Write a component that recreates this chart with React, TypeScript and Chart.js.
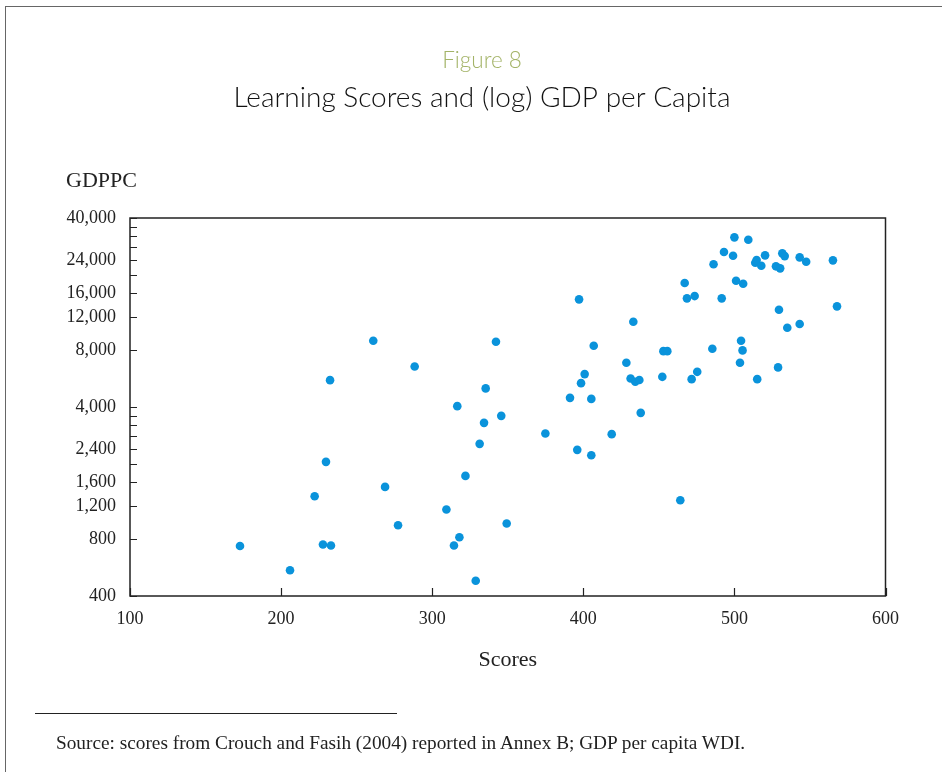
import React, { useEffect, useRef } from 'react';
import { Chart, registerables } from 'chart.js';

Chart.register(...registerables);

// ---- data ----
const scores = [
  172.8, 205.9, 222.2, 229.7, 227.7, 233.0, 232.4, 261.0, 268.8, 277.4,
  288.4, 309.4, 314.4, 318.0, 316.6, 322.0, 328.8, 331.4, 334.3, 342.2,
  345.7, 349.3, 335.4, 374.9, 391.2, 396.0, 397.2, 398.5, 400.9, 405.3,
  405.3, 406.9, 418.8, 428.5, 431.3, 434.4, 437.1, 433.1, 438.0, 452.3,
  453.0, 455.6, 464.2, 467.1, 468.6, 473.7, 471.7, 475.4, 485.4, 486.2,
  491.6, 493.1, 499.1, 500.0, 501.1, 503.7, 504.4, 505.4, 505.8, 509.2,
  513.8, 514.7, 515.1, 517.8, 520.3, 527.5, 528.9, 529.5, 530.3, 531.7,
  533.3, 535.0, 543.2, 543.2, 547.5, 565.2, 567.9,
];
const gdppc = [
  736, 547, 1349, 2050, 749, 740, 5549, 8960, 1511, 947,
  6557, 1147, 740, 818, 4042, 1728, 482, 2553, 3297, 8851,
  3591, 967, 5017, 2898, 4472, 2373, 14849, 5348, 5972, 4416,
  2224, 8432, 2873, 6853, 5665, 5437, 5560, 11300, 3725, 5777,
  7900, 7900, 1285, 18120, 15030, 15450, 5616, 6140, 8128, 22750,
  15030, 26430, 25260, 31600, 18630, 6853, 8960, 7973, 17950, 30700,
  23190, 23970, 5616, 22360, 25380, 22200, 6481, 13080, 21660, 26000,
  25150, 10500, 24770, 10990, 23480, 23880, 13630,
];
const xTickValues = [100, 200, 300, 400, 500, 600];
const yTickValues = [
  400, 800, 1200, 1600, 2000, 2400, 2800, 3200, 3600, 4000,
  8000, 12000, 16000, 20000, 24000, 28000, 32000, 36000, 40000,
];
const yLabelValues = [400, 800, 1200, 1600, 2400, 4000, 8000, 12000, 16000, 24000, 40000];

// ---- layout constants ----
const W = 942;
const H = 772;
const PLOT_LEFT = 130;
const PLOT_RIGHT = 885.5;
const PLOT_BOTTOM = 596;
const PAD_LEFT = 22; // with the right spacer axis, centres the titles near x = 482
const SERIF = '"Liberation Serif", "Times New Roman", serif';
const SANS = 'Lato, "Open Sans", sans-serif';
const INK = '#222';
const DOT = '#0a93db';

const frameAndTicks = {
  id: 'frameAndTicks',
  afterDraw(chart: any) {
    const { ctx, chartArea, scales } = chart;
    const { left, right, top, bottom } = chartArea;
    ctx.save();
    ctx.strokeStyle = INK;
    ctx.lineWidth = 1.5;
    ctx.strokeRect(left, top, right - left, bottom - top);
    ctx.lineWidth = 1.2;
    ctx.beginPath();
    for (const v of yTickValues) {
      const py = Math.round(scales.y.getPixelForValue(v)) + 0.5;
      ctx.moveTo(left, py);
      ctx.lineTo(left + 7, py);
    }
    for (const v of xTickValues) {
      const px = Math.round(scales.x.getPixelForValue(v)) + 0.5;
      ctx.moveTo(px, bottom);
      ctx.lineTo(px, bottom - 8);
    }
    ctx.stroke();
    ctx.restore();
  },
};

export default function App() {
  const ref = useRef<HTMLCanvasElement | null>(null);

  useEffect(() => {
    if (!ref.current) return;
    const chart = new Chart(ref.current, {
      type: 'scatter',
      data: {
        datasets: [
          {
            data: scores.map((x, i) => ({ x, y: gdppc[i] })),
            backgroundColor: DOT,
            borderColor: DOT,
            borderWidth: 0,
            pointRadius: 4.3,
            pointHoverRadius: 4.3,
          },
        ],
      },
      options: {
        responsive: false,
        animation: false,
        devicePixelRatio: 1,
        events: [],
        layout: { padding: { left: PAD_LEFT, right: 0, top: 0, bottom: 0 } },
        plugins: {
          legend: { display: false },
          tooltip: { enabled: false },
          title: {
            display: true,
            text: 'Figure 8',
            color: '#a3b367',
            font: { family: SANS, size: 22.5, weight: '300', lineHeight: 1.2 },
            padding: { top: 47.5, bottom: 0 },
          },
          subtitle: {
            display: true,
            text: 'Learning Scores and (log) GDP per Capita',
            color: '#111',
            font: { family: SANS, size: 28, weight: '300', lineHeight: 1.2 },
            padding: { top: 6.7, bottom: 103.2 },
          },
        },
        scales: {
          x: {
            type: 'linear',
            min: 100,
            max: 600,
            afterBuildTicks: (s: any) => {
              s.ticks = xTickValues.map((v) => ({ value: v }));
            },
            afterFit: (s: any) => {
              s.height = H - PLOT_BOTTOM;
            },
            grid: { display: false, drawTicks: false },
            border: { display: false },
            ticks: {
              autoSkip: false,
              maxRotation: 0,
              padding: 12,
              color: INK,
              font: { family: SERIF, size: 18 },
            },
            title: {
              display: true,
              text: 'Scores',
              color: INK,
              font: { family: SERIF, size: 22, lineHeight: 1.2 },
              padding: { top: 0, bottom: 98.8 },
            },
          },
          y: {
            type: 'logarithmic',
            min: 400,
            max: 40000,
            afterBuildTicks: (s: any) => {
              s.ticks = yTickValues.map((v) => ({ value: v }));
            },
            afterFit: (s: any) => {
              s.width = PLOT_LEFT - PAD_LEFT;
            },
            grid: { display: false, drawTicks: false },
            border: { display: false },
            ticks: {
              autoSkip: false,
              padding: 14,
              color: INK,
              font: { family: SERIF, size: 18 },
              callback: (v: any) =>
                yLabelValues.includes(Number(v)) ? Number(v).toLocaleString('en-US') : '',
            },
          },
          spacer: {
            type: 'linear',
            position: 'right',
            display: true,
            grid: { display: false, drawTicks: false },
            border: { display: false },
            ticks: { display: false },
            afterFit: (s: any) => {
              s.width = W - PLOT_RIGHT;
            },
          },
        },
      },
      plugins: [frameAndTicks],
    });
    return () => chart.destroy();
  }, []);

  return (
    <div
      style={{
        position: 'fixed',
        left: 0,
        top: 0,
        width: W,
        height: H,
        overflow: 'hidden',
        background: '#fff',
      }}
    >
      <div
        style={{
          position: 'absolute',
          left: 5,
          top: 6,
          width: 1200,
          height: 1200,
          borderTop: '1.5px solid #666',
          borderLeft: '1.5px solid #666',
        }}
      />
      <canvas
        ref={ref}
        width={W}
        height={H}
        style={{ position: 'absolute', left: 0, top: 0, width: W, height: H }}
      />
      <div
        style={{
          position: 'absolute',
          left: 66,
          top: 168,
          fontFamily: SERIF,
          fontSize: 22,
          lineHeight: '24px',
          color: INK,
        }}
      >
        GDPPC
      </div>
      <div
        style={{
          position: 'absolute',
          left: 35,
          top: 713,
          width: 362,
          height: 0,
          borderTop: '1.5px solid #222',
        }}
      />
      <div
        style={{
          position: 'absolute',
          left: 56,
          top: 731,
          fontFamily: SERIF,
          fontSize: 19.3,
          lineHeight: '24px',
          color: INK,
          whiteSpace: 'nowrap',
        }}
      >
        Source: scores from Crouch and Fasih (2004) reported in Annex B; GDP per capita WDI.
      </div>
    </div>
  );
}
